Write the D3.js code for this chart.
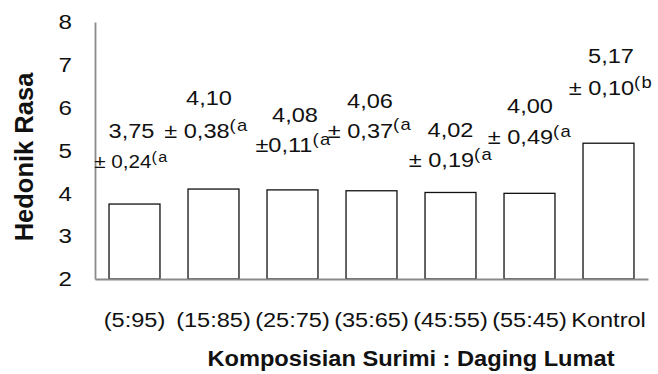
<!DOCTYPE html>
<html>
<head>
<meta charset="utf-8">
<script src="https://cdn.jsdelivr.net/npm/d3@7"></script>
<style>
  html, body { margin: 0; padding: 0; background: #fff; }
  svg { display: block; font-family: "Liberation Sans", Arial, sans-serif; }
</style>
</head>
<body>
<svg id="chart" width="658" height="374"></svg>
<script>
// Hedonic taste scores per surimi : minced meat composition
const categories = ["(5:95)", "(15:85)", "(25:75)", "(35:65)", "(45:55)", "(55:45)", "Kontrol"];
const means = [3.75, 4.10, 4.08, 4.06, 4.02, 4.00, 5.17];
const sds = [0.24, 0.38, 0.11, 0.37, 0.19, 0.49, 0.10];
const groups = ["a", "a", "a", "a", "a", "a", "b"];
const yTicks = [2, 3, 4, 5, 6, 7, 8];

// Placement of the two-line value labels, relative to each bar's centre and top
const labelLayout = [
  { mx: -3,   my: -66,   sx: -3,  sy: -36,   sdSize: 18,   tight: false },
  { mx: -4.5, my: -84,   sx: -7,  sy: -51,   sdSize: 20.5, tight: false },
  { mx: 2.5,  my: -68,   sx: 1,   sy: -38,   sdSize: 20.5, tight: true },
  { mx: -1.5, my: -83,   sx: -1.5,sy: -53,   sdSize: 20.5, tight: false },
  { mx: 0,    my: -55.5, sx: 0.5, sy: -25.5, sdSize: 20.5, tight: false },
  { mx: 0.5,  my: -80,   sx: 0.5, sy: -49,   sdSize: 20.5, tight: false },
  { mx: 2.5,  my: -80,   sx: 2.5, sy: -48,   sdSize: 20.5, tight: false }
];

const plot = { left: 95, right: 648, top: 22, bottom: 279 };
const FS = 20.5, SX = 1.15;

const svg = d3.select("#chart");

const x = d3.scaleBand().domain(categories).range([plot.left, plot.right]).paddingInner(0.355).paddingOuter(0.1775);
const y = d3.scaleLinear().domain([2, 8]).range([plot.bottom, plot.top]);

const comma = v => d3.format(".2f")(v).replace(".", ",");

// bars
svg.append("g").selectAll("rect")
  .data(means)
  .join("rect")
  .attr("x", (d, i) => x(categories[i]))
  .attr("y", d => y(d))
  .attr("width", x.bandwidth())
  .attr("height", d => y(2) - y(d))
  .attr("fill", "#fff")
  .attr("stroke", "#111")
  .attr("stroke-width", 1.3);

// y axis
const gy = svg.append("g")
  .attr("transform", `translate(${plot.left},0)`)
  .call(d3.axisLeft(y).tickValues(yTicks).tickFormat(d3.format("d"))
    .tickSize(0).tickSizeOuter(0).tickPadding(20));
gy.select(".domain").attr("stroke", "#8a8a8a").attr("stroke-width", 1.8);
gy.selectAll("text")
  .attr("font-size", FS + 0.5)
  .attr("font-family", "Liberation Sans, Arial, sans-serif")
  .attr("fill", "#111")
  .attr("transform", `scale(${SX},1)`);

// x axis
const gx = svg.append("g")
  .attr("transform", `translate(0,${plot.bottom})`)
  .call(d3.axisBottom(x).tickSize(0).tickSizeOuter(0).tickPadding(33.5));
gx.select(".domain").attr("stroke", "#8a8a8a").attr("stroke-width", 1.8);
gx.selectAll("text")
  .attr("font-size", FS)
  .attr("font-family", "Liberation Sans, Arial, sans-serif")
  .attr("fill", "#111")
  .attr("transform", `scale(${SX},1)`);

// value labels: mean on one line, ± sd with group letter on the next
const labels = svg.append("g").attr("fill", "#111");
means.forEach((m, i) => {
  const cx = x(categories[i]) + x.bandwidth() / 2;
  const ty = y(m);
  const L = labelLayout[i];

  labels.append("text")
    .attr("transform", `translate(${cx + L.mx},${ty + L.my}) scale(${SX},1)`)
    .attr("text-anchor", "middle")
    .attr("font-size", FS)
    .text(comma(m));

  const sd = labels.append("text")
    .attr("transform", `translate(${cx + L.sx},${ty + L.sy}) scale(${SX},1)`)
    .attr("text-anchor", "middle")
    .attr("font-size", L.sdSize);
  sd.append("tspan").text((L.tight ? "\u00b1" : "\u00b1 ") + comma(sds[i]));
  sd.append("tspan")
    .attr("font-size", L.sdSize * 0.78)
    .attr("dy", -L.sdSize * 0.36)
    .attr("letter-spacing", 1.2)
    .text("(" + groups[i]);
});

// axis titles
svg.append("text")
  .attr("transform", `translate(33,157) rotate(-90)`)
  .attr("text-anchor", "middle")
  .attr("font-size", 25.5)
  .attr("font-weight", "bold")
  .attr("fill", "#111")
  .text("Hedonik Rasa");

svg.append("text")
  .attr("transform", `translate(411,366) scale(1.1,1)`)
  .attr("text-anchor", "middle")
  .attr("font-size", 21.5)
  .attr("font-weight", "bold")
  .attr("fill", "#111")
  .text("Komposisian Surimi : Daging Lumat");
</script>
</body>
</html>
